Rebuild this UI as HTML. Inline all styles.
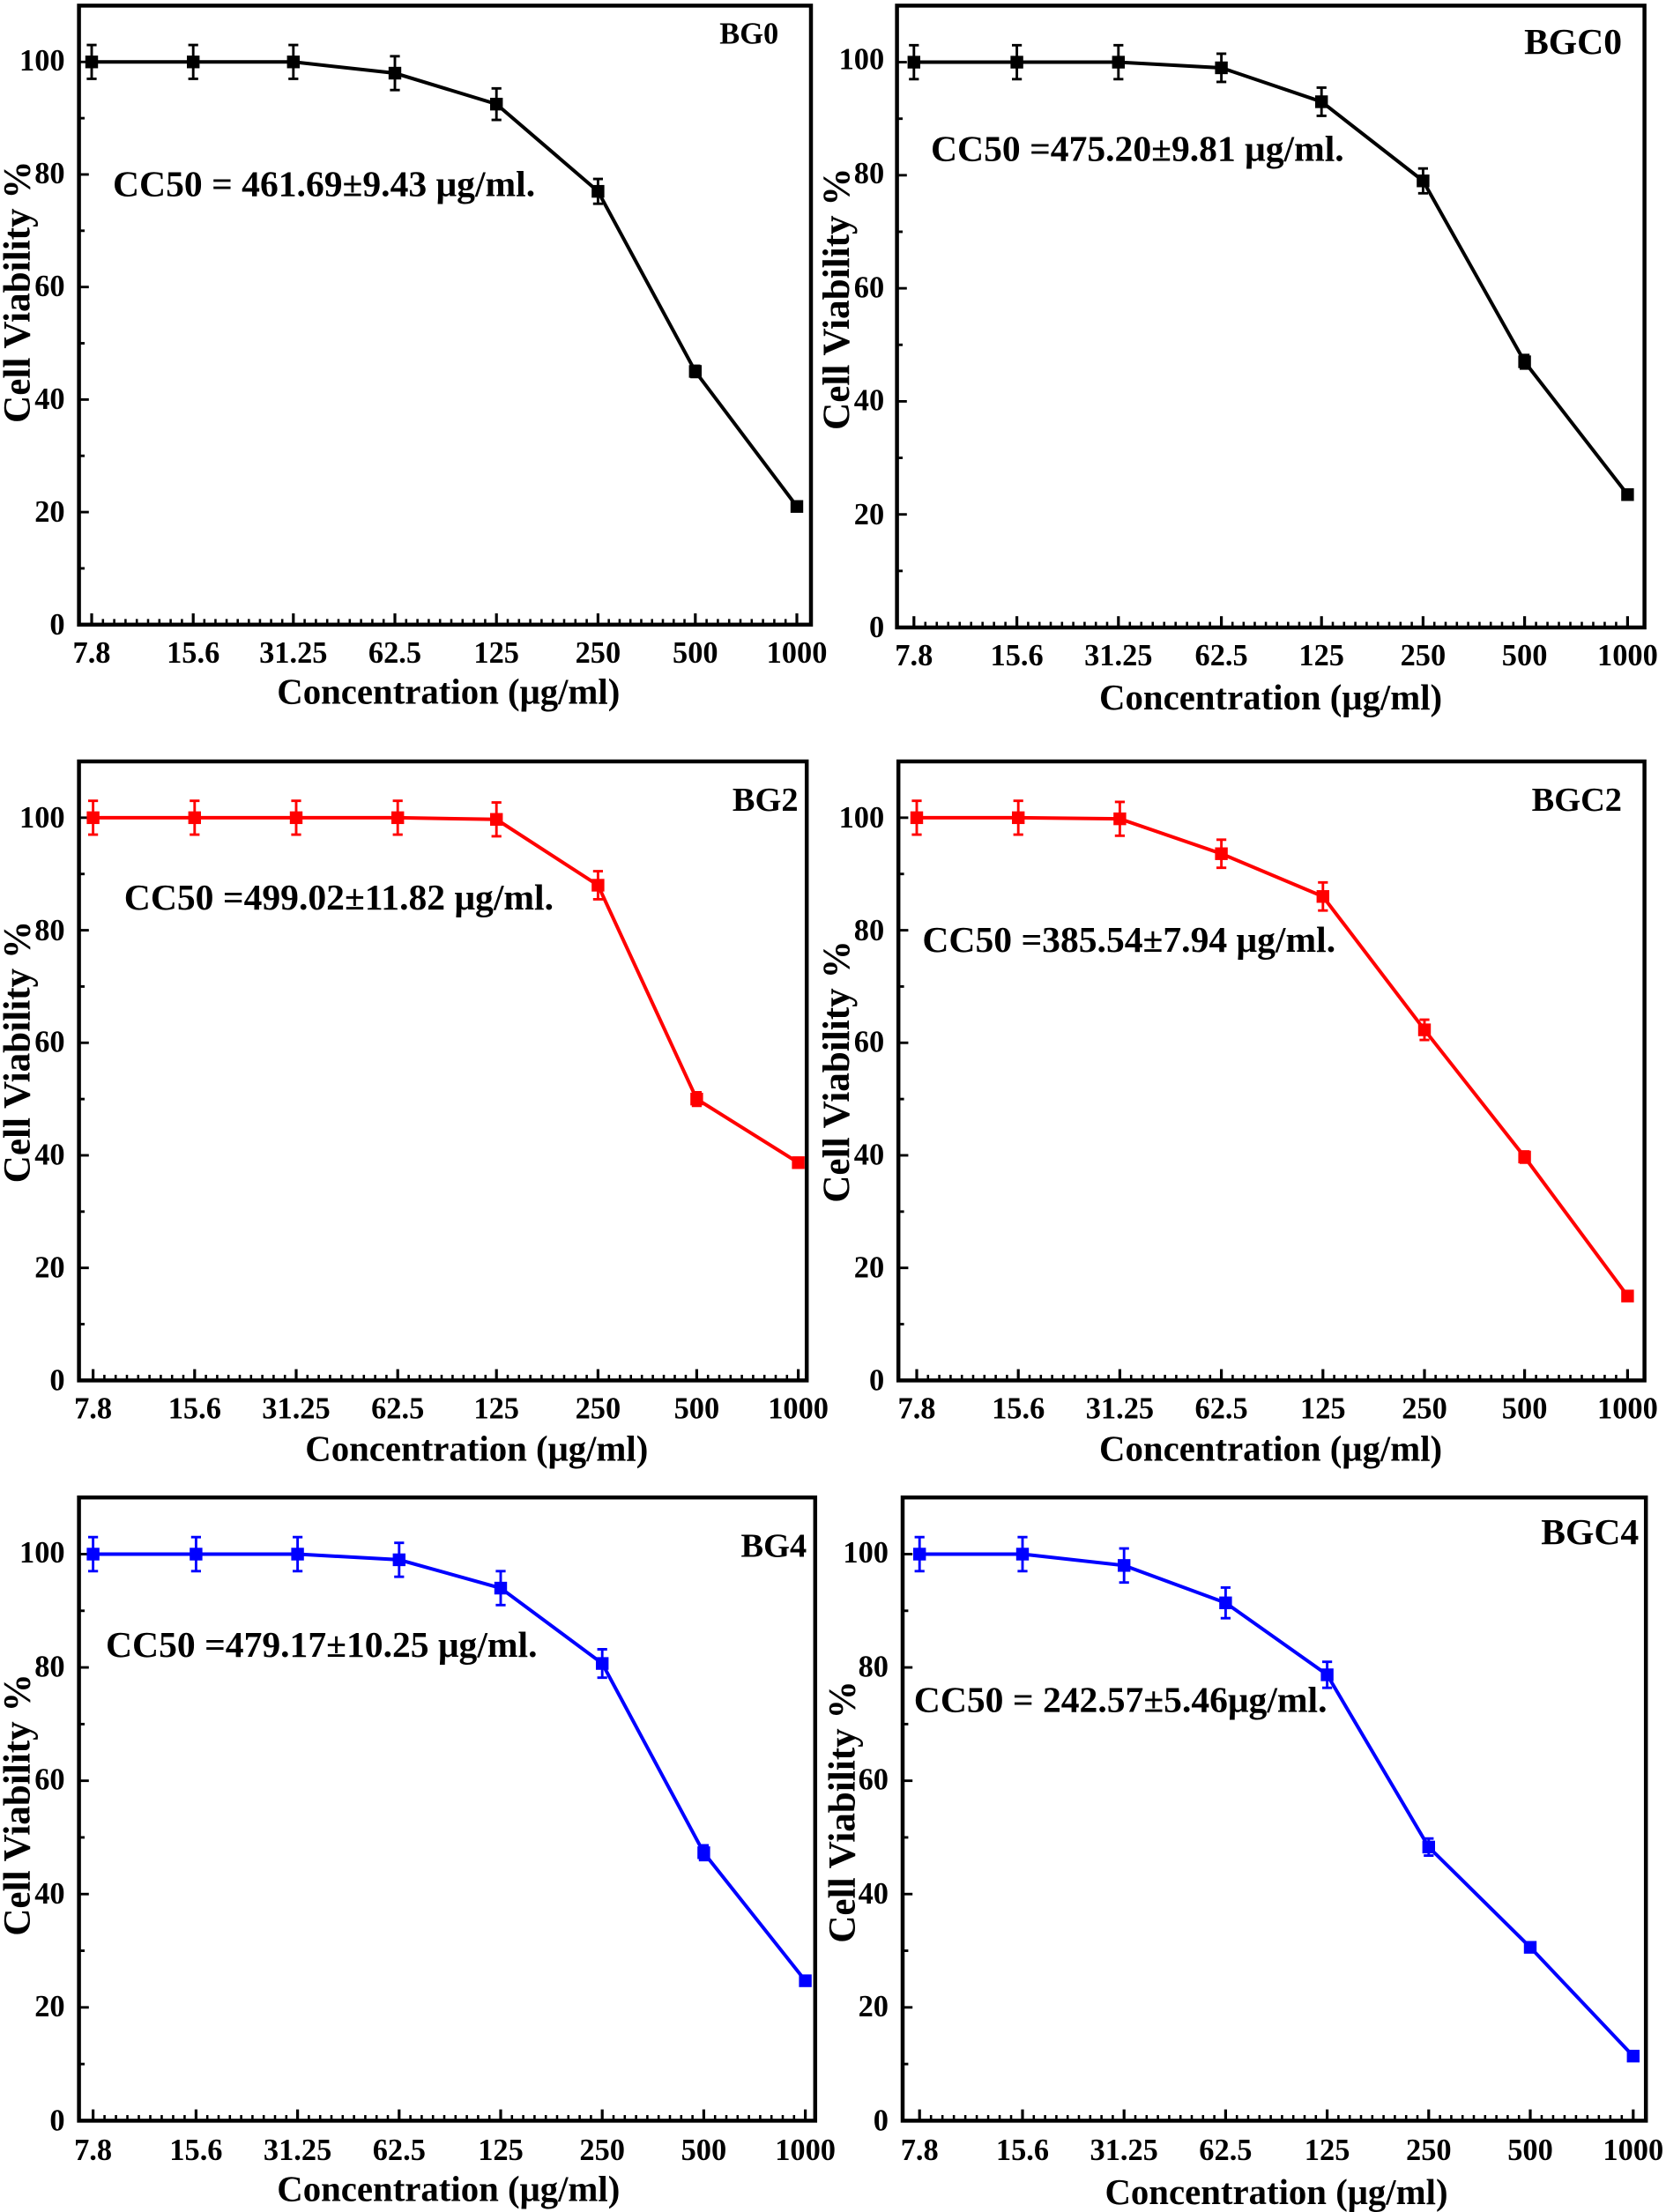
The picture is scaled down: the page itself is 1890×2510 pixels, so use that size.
<!DOCTYPE html>
<html><head><meta charset="utf-8"><style>
html,body{margin:0;padding:0;background:#fff}
svg{display:block}
text{font-family:"Liberation Serif",serif;font-weight:bold;fill:#000}
</style></head><body>
<svg id="s" width="1890" height="2510" viewBox="0 0 1181.25 1568.75" xmlns="http://www.w3.org/2000/svg">
<g id="g"></g>
<g font-size="21.5" text-anchor="end">
<text x="46" y="450">0</text><text x="46" y="370">20</text><text x="46" y="290">40</text><text x="46" y="210">60</text><text x="46" y="130">80</text><text x="46" y="50">100</text>
<text x="627" y="452">0</text><text x="627" y="372">20</text><text x="627" y="291">40</text><text x="627" y="211">60</text><text x="627" y="130">80</text><text x="627" y="49">100</text>
<text x="46" y="986">0</text><text x="46" y="906">20</text><text x="46" y="826">40</text><text x="46" y="746">60</text><text x="46" y="667">80</text><text x="46" y="587">100</text>
<text x="627" y="986">0</text><text x="627" y="906">20</text><text x="627" y="826">40</text><text x="627" y="746">60</text><text x="627" y="667">80</text><text x="627" y="587">100</text>
<text x="46" y="1511">0</text><text x="46" y="1430">20</text><text x="46" y="1350">40</text><text x="46" y="1269">60</text><text x="46" y="1189">80</text><text x="46" y="1108">100</text>
<text x="630" y="1511">0</text><text x="630" y="1430">20</text><text x="630" y="1350">40</text><text x="630" y="1269">60</text><text x="630" y="1189">80</text><text x="630" y="1108">100</text>
</g>
<g font-size="21.5" text-anchor="middle">
<text x="65" y="470">7.8</text><text x="137" y="470">15.6</text><text x="208" y="470">31.25</text><text x="280" y="470">62.5</text><text x="352" y="470">125</text><text x="424" y="470">250</text><text x="493" y="470">500</text><text x="565" y="470">1000</text>
<text x="648" y="472">7.8</text><text x="721" y="472">15.6</text><text x="793" y="472">31.25</text><text x="866" y="472">62.5</text><text x="937" y="472">125</text><text x="1009" y="472">250</text><text x="1081" y="472">500</text><text x="1154" y="472">1000</text>
<text x="66" y="1006">7.8</text><text x="138" y="1006">15.6</text><text x="210" y="1006">31.25</text><text x="282" y="1006">62.5</text><text x="352" y="1006">125</text><text x="424" y="1006">250</text><text x="494" y="1006">500</text><text x="566" y="1006">1000</text>
<text x="650" y="1006">7.8</text><text x="722" y="1006">15.6</text><text x="794" y="1006">31.25</text><text x="866" y="1006">62.5</text><text x="938" y="1006">125</text><text x="1010" y="1006">250</text><text x="1081" y="1006">500</text><text x="1154" y="1006">1000</text>
<text x="66" y="1532">7.8</text><text x="139" y="1532">15.6</text><text x="211" y="1532">31.25</text><text x="283" y="1532">62.5</text><text x="355" y="1532">125</text><text x="427" y="1532">250</text><text x="499" y="1532">500</text><text x="571" y="1532">1000</text>
<text x="652" y="1532">7.8</text><text x="725" y="1532">15.6</text><text x="797" y="1532">31.25</text><text x="869" y="1532">62.5</text><text x="941" y="1532">125</text><text x="1013" y="1532">250</text><text x="1085" y="1532">500</text><text x="1158" y="1532">1000</text>
</g>
<g font-size="25.5" text-anchor="middle">
<text x="318" y="499">Concentration (μg/ml)</text>
<text x="901" y="503">Concentration (μg/ml)</text>
<text x="338" y="1036">Concentration (μg/ml)</text>
<text x="901" y="1036">Concentration (μg/ml)</text>
<text x="318" y="1561">Concentration (μg/ml)</text>
<text x="905" y="1563">Concentration (μg/ml)</text>
</g>
<g font-size="27" text-anchor="middle">
<text transform="translate(21,207) rotate(-90)">Cell Viability %</text>
<text transform="translate(602,212) rotate(-90)">Cell Viability %</text>
<text transform="translate(21,746) rotate(-90)">Cell Viability %</text>
<text transform="translate(602,760) rotate(-90)">Cell Viability %</text>
<text transform="translate(21,1280) rotate(-90)">Cell Viability %</text>
<text transform="translate(606,1285) rotate(-90)">Cell Viability %</text>
</g>
<g font-size="26">
<text x="80" y="139">CC50 = 461.69±9.43 μg/ml.</text>
<text x="660" y="114">CC50 =475.20±9.81 μg/ml.</text>
<text x="88" y="645">CC50 =499.02±11.82 μg/ml.</text>
<text x="654" y="675">CC50 =385.54±7.94 μg/ml.</text>
<text x="75" y="1175">CC50 =479.17±10.25 μg/ml.</text>
<text x="648" y="1214">CC50 = 242.57±5.46μg/ml.</text>
</g>
<g text-anchor="end">
<text x="552" y="31" font-size="21.5">BG0</text>
<text x="1150" y="38" font-size="26">BGC0</text>
<text x="566" y="575" font-size="24">BG2</text>
<text x="1150" y="575" font-size="24">BGC2</text>
<text x="572" y="1104" font-size="24">BG4</text>
<text x="1162" y="1095" font-size="26">BGC4</text>
</g>
</svg>
<script>
var P=[
{l:56,r:575,t:4,b:443,xs:[65,137,208,280,352,424,493,565],d:[100,100,100,98,92.5,77,45,21],e:[3,3,3,3,2.8,2.2,1,0.5],c:"#000"},
{l:636,r:1166,t:4,b:445,xs:[648,721,793,866,937,1009,1081,1154],d:[100,100,100,99,93,79,47,23.5],e:[3,3,3,2.5,2.5,2.2,1.2,0.5],c:"#000"},
{l:56,r:572,t:540,b:979,xs:[66,138,210,282,352,424,494,566],d:[100,100,100,100,99.7,88,50,38.7],e:[3,3,3,3,3,2.5,1.2,0.5],c:"#ff0000"},
{l:637,r:1166,t:540,b:979,xs:[650,722,794,866,938,1010,1081,1154],d:[100,100,99.8,93.6,86,62.3,39.7,15],e:[3,3,3,2.5,2.5,1.8,1,0.5],c:"#ff0000"},
{l:56,r:578,t:1062,b:1504,xs:[66,139,211,283,355,427,499,571],d:[100,100,100,99,94,80.7,47.3,24.7],e:[3,3,3,3,3,2.5,1.3,0.5],c:"#0000ff"},
{l:640,r:1167,t:1062,b:1504,xs:[652,725,797,869,941,1013,1085,1158],d:[100,100,98,91.4,78.7,48.3,30.6,11.4],e:[3,3,3,2.7,2.3,1.5,0.8,0.5],c:"#0000ff"}];
var h="";
P.forEach(function(p){
 var k=(p.b-p.t)/110;function Y(v){return p.b-v*k;}
 h+='<rect x="'+p.l+'" y="'+p.t+'" width="'+(p.r-p.l)+'" height="'+(p.b-p.t)+'" fill="none" stroke="#000" stroke-width="2.8"/>';
 for(var v=10;v<110;v+=10){var y=Y(v);h+='<line x1="'+p.l+'" x2="'+(p.l+(v%20?4:7))+'" y1="'+y+'" y2="'+y+'" stroke="#000" stroke-width="1.8"/>';}
 for(var i=0;i<p.xs.length;i++){var x=p.xs[i];h+='<line x1="'+x+'" x2="'+x+'" y1="'+p.b+'" y2="'+(p.b-8)+'" stroke="#000" stroke-width="2"/>';
  if(i<p.xs.length-1){var s=(p.xs[i+1]-x)/9;for(var j=1;j<9;j++){var xx=x+s*j;h+='<line x1="'+xx+'" x2="'+xx+'" y1="'+p.b+'" y2="'+(p.b-4)+'" stroke="#000" stroke-width="1.6"/>';}}}
 var pts=p.xs.map(function(x,i){return x+','+Y(p.d[i]);}).join(' ');
 h+='<polyline points="'+pts+'" fill="none" stroke="'+p.c+'" stroke-width="2.5"/>';
 p.xs.forEach(function(x,i){var y=Y(p.d[i]),e=p.e[i]*k;
  if(p.e[i]>0.6){h+='<path d="M'+x+' '+(y-e)+'V'+(y+e)+'M'+(x-3.5)+' '+(y-e)+'H'+(x+3.5)+'M'+(x-3.5)+' '+(y+e)+'H'+(x+3.5)+'" stroke="'+p.c+'" stroke-width="1.8" fill="none"/>';}
  h+='<rect x="'+(x-4.5)+'" y="'+(y-4.5)+'" width="9" height="9" fill="'+p.c+'"/>';});
});
document.getElementById("g").innerHTML=h;
</script>
</body></html>
